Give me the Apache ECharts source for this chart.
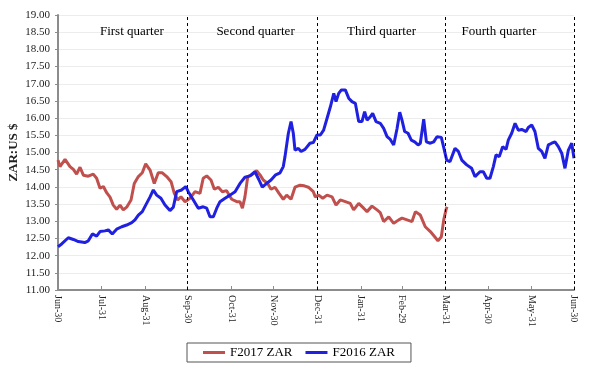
<!DOCTYPE html>
<html>
<head>
<meta charset="utf-8">
<script src="https://cdn.jsdelivr.net/npm/echarts@6/dist/echarts.min.js"></script>
<style>html,body{margin:0;padding:0;background:#fff;}#c{width:592px;height:371px;}</style>
</head>
<body>
<div id="c"></div>
<script>
// Days counted from 30 June (start of the financial year)
const tickDays = [0, 31, 62, 92, 123, 153, 184, 215, 244, 275, 305, 336, 366];
const tickLabels = ['Jun-30','Jul-31','Aug-31','Sep-30','Oct-31','Nov-30','Dec-31','Jan-31','Feb-29','Mar-31','Apr-30','May-31','Jun-30'];
const quarterNames = ['First quarter','Second quarter','Third quarter','Fourth quarter'];
const quarterBounds = [0, 92, 184, 275, 366];

const f2016Days = [0,2.6,7.3,10.9,14.4,19,21.5,24.4,27.4,29.8,33.3,35.7,38.5,41.6,45.2,48.7,52.3,54.6,57,59.8,62.2,65.3,67.6,70,73,75.9,79.4,81.8,84.2,87.7,90.6,
  92.4,96,99.5,103,105.5,107.8,110.2,112.6,114.9,118.5,122,125.6,129.1,132.6,136.2,139.7,142.6,144.9,148,151.1,154.4,157.5,159.8,161,163.4,165.3,166.9,168.1,170.5,172.4,175.2,178.7,181.1,
  183.7,186.1,188.4,190.8,193.2,195.6,197.2,199.1,201,203.8,206.2,208.5,210.9,213.3,215.6,217.5,219.2,221.5,223.2,225.6,228.6,231,233.4,235.7,238.1,240.5,242.4,244,245.9,248.3,250.6,253,255.4,257,259.4,261.3,264.1,266.5,268.8,271.9,
  273.3,275.7,278,281.6,284,286.4,289.9,293.4,295.8,299.3,301.7,304.1,306.4,308.8,310.7,313,315.4,317.8,319.4,321.8,324.2,326.5,328.9,332,333.6,336,338.3,340.7,343.1,345.4,347.8,350.2,352.5,354.9,357.3,359.6,362,364.4,366];
const f2016Values = [12.26,12.34,12.52,12.47,12.41,12.38,12.43,12.63,12.57,12.70,12.72,12.75,12.63,12.77,12.84,12.89,12.96,13.04,13.18,13.28,13.47,13.71,13.91,13.76,13.67,13.47,13.31,13.41,13.86,13.91,14.01,
  13.86,13.62,13.38,13.42,13.38,13.13,13.13,13.38,13.57,13.67,13.76,13.86,14.10,14.28,14.32,14.44,14.20,13.99,14.10,14.20,14.35,14.41,14.59,14.88,15.56,15.90,15.56,15.07,15.12,15.03,15.09,15.27,15.29,
  15.51,15.51,15.65,15.99,16.33,16.72,16.48,16.72,16.82,16.82,16.58,16.48,16.43,15.90,15.90,16.19,15.94,16.04,16.14,15.90,15.85,15.70,15.46,15.38,15.22,15.70,16.17,15.94,15.61,15.56,15.36,15.31,15.22,15.27,15.97,15.31,15.27,15.31,15.46,15.44,
  15.41,14.78,14.73,15.12,15.03,14.78,14.64,14.54,14.30,14.44,14.44,14.25,14.25,14.59,14.93,14.88,15.17,15.09,15.36,15.56,15.85,15.65,15.67,15.61,15.73,15.80,15.61,15.12,15.03,14.83,15.22,15.27,15.31,15.17,14.98,14.54,15.07,15.27,14.83];

const f2017Days = [0,1.4,5,8.5,10.9,13.2,15.6,18,21.5,25,27.4,29.8,32.2,34.5,36.9,39.2,41.6,44,46.3,48.7,51.8,54.1,57,59.8,62.2,65.3,68.3,71.1,74,77.1,80.2,82.5,84.9,87.2,90.1,
  93.6,97.2,100.7,103,105.5,108.5,110.9,113.7,116.6,119.6,123.2,126.8,129.1,130.8,132.6,134.6,137.4,140.9,143.3,145.6,148.7,151.1,153.9,156.8,159.8,162.2,165.3,168.1,171.7,174.7,177.6,181.1,
  182.5,184.9,187.8,190.8,194.4,197.2,200.2,203.8,207.3,209.7,213.3,216.8,219.2,222.7,226.3,228.6,231,234.6,238.1,241.7,244,247.6,251.1,253.5,257,260.5,264.1,267.2,269.5,271.9,273.6,275.2,275.9];
const f2017Values = [14.78,14.59,14.80,14.59,14.51,14.37,14.57,14.34,14.31,14.37,14.25,13.96,14.01,13.83,13.70,13.47,13.35,13.47,13.33,13.41,13.62,14.10,14.30,14.41,14.67,14.49,14.10,14.41,14.41,14.30,14.15,13.81,13.62,13.71,13.57,
  13.67,13.86,13.81,14.25,14.32,14.20,13.93,13.99,13.86,13.89,13.64,13.57,13.57,13.38,13.71,14.30,14.35,14.47,14.35,14.20,14.10,13.93,13.99,13.81,13.64,13.76,13.64,13.99,14.05,14.03,13.99,13.86,
  13.71,13.76,13.67,13.76,13.71,13.47,13.62,13.57,13.52,13.33,13.52,13.38,13.28,13.44,13.33,13.25,12.99,13.13,12.94,13.04,13.09,13.04,12.99,13.28,13.18,12.84,12.70,12.55,12.43,12.55,13.04,13.33,13.42];

const FONT = '"Liberation Serif", "Times New Roman", serif';
const pair = (d, v) => d.map((x, i) => [x, v[i]]);
const quarterOffsets = [9, 3, 0, -11];

const chart = echarts.init(document.getElementById('c'), null, {renderer: 'canvas'});
chart.setOption({
  animation: false,
  backgroundColor: '#fff',
  grid: {left: 58, right: 18, top: 15, bottom: 81, outerBoundsMode: 'none', containLabel: false},
  legend: {
    left: 187, top: 343,
    padding: [3, 16, 3, 16],
    itemGap: 13, itemWidth: 22, itemHeight: 3,
    icon: 'rect',
    borderColor: '#555', borderWidth: 1,
    textStyle: {fontFamily: FONT, fontSize: 13, color: '#000'},
    data: ['F2017 ZAR', 'F2016 ZAR']
  },
  xAxis: {
    type: 'value', min: 0, max: 366,
    axisLine: {lineStyle: {color: '#8c8c8c', width: 2}},
    axisTick: {show: true, inside: true, length: 4, customValues: tickDays, lineStyle: {color: '#8c8c8c'}},
    axisLabel: {
      customValues: tickDays, rotate: -90, margin: 5,
      fontFamily: FONT, fontSize: 10, color: '#222',
      formatter: v => tickLabels[tickDays.indexOf(v)] || ''
    },
    splitLine: {show: false}
  },
  yAxis: {
    type: 'value', min: 11, max: 19, interval: 0.5,
    name: 'ZAR:US $', nameLocation: 'middle', nameRotate: 90, nameGap: 38, nameMoveOverlap: false,
    nameTextStyle: {fontFamily: FONT, fontSize: 13, fontWeight: 'bold', color: '#222'},
    axisLine: {show: true, lineStyle: {color: '#8c8c8c', width: 2}},
    axisTick: {show: true, length: 3, lineStyle: {color: '#8c8c8c'}},
    axisLabel: {fontFamily: FONT, fontSize: 11, color: '#222', margin: 8, formatter: v => v.toFixed(2)},
    splitLine: {show: true, lineStyle: {color: '#ececec', width: 1}}
  },
  series: [
    {
      name: 'F2017 ZAR', type: 'line', showSymbol: false, symbol: 'none',
      data: pair(f2017Days, f2017Values),
      lineStyle: {color: '#c0504d', width: 3}, itemStyle: {color: '#c0504d'},
      z: 3,
      markLine: {
        silent: true, symbol: 'none',
        lineStyle: {color: '#000', type: [3, 3], width: 1},
        label: {show: false},
        data: quarterBounds.slice(1).map(d => ({xAxis: d}))
      },
      markArea: {
        silent: true,
        itemStyle: {color: 'rgba(0,0,0,0)'},
        label: {position: 'insideTop', distance: 10, fontFamily: FONT, fontSize: 13, color: '#000'},
        data: quarterNames.map((n, i) => [
          {name: n, xAxis: quarterBounds[i], label: {offset: [quarterOffsets[i], 0]}},
          {xAxis: quarterBounds[i + 1]}
        ])
      }
    },
    {
      name: 'F2016 ZAR', type: 'line', showSymbol: false, symbol: 'none',
      data: pair(f2016Days, f2016Values),
      lineStyle: {color: '#2020e0', width: 3}, itemStyle: {color: '#2020e0'},
      z: 4
    }
  ]
});
</script>
</body>
</html>
